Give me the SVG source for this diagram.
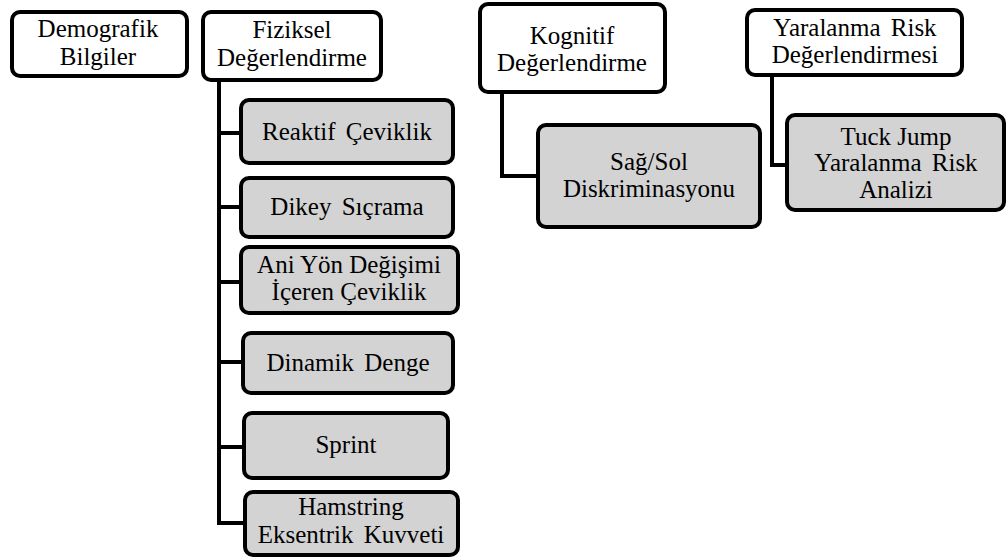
<svg xmlns="http://www.w3.org/2000/svg" width="1006" height="558" viewBox="0 0 1006 558">
<style>
text{font-family:'Liberation Serif',serif !important;font-size:25px;fill:#000;text-anchor:middle;}
.box{stroke:#000;stroke-width:4;}
.w{fill:#fff;}
.g{fill:#d3d3d3;}
.c{fill:none;stroke:#000;stroke-width:4;}
</style>
<rect width="1006" height="558" fill="#fff"/>
<g id="connectors">
<path class="c" d="M219,80 V523 H245 M219,133 H241 M219,207 H241 M219,282 H241 M219,362 H243 M219,447 H244"/>
<path class="c" d="M502,92 V176 H538"/>
<path class="c" d="M772,75 V165 H787"/>
</g>
<g id="demografik">
<rect class="box w" x="12" y="12" width="175" height="64" rx="8"/>
<text x="98" y="37" font-family="Liberation Serif">Demografik</text>
<text x="98" y="65" font-family="Liberation Serif">Bilgiler</text>
</g>
<g id="fiziksel">
<rect class="box w" x="203" y="12" width="178" height="68" rx="8"/>
<text x="292" y="38" font-family="Liberation Serif">Fiziksel</text>
<text x="292" y="66" font-family="Liberation Serif">Değerlendirme</text>
</g>
<g id="reaktif">
<rect class="box g" x="241" y="100" width="212" height="63" rx="8"/>
<text x="347" y="140" word-spacing="4" font-family="Liberation Serif">Reaktif Çeviklik</text>
</g>
<g id="dikey">
<rect class="box g" x="241" y="178" width="212" height="59" rx="8"/>
<text x="347" y="215" word-spacing="4" font-family="Liberation Serif">Dikey Sıçrama</text>
</g>
<g id="aniyon">
<rect class="box g" x="241" y="247" width="217" height="66" rx="8"/>
<text x="349" y="273" font-family="Liberation Serif">Ani Yön Değişimi</text>
<text x="349" y="300" font-family="Liberation Serif">İçeren Çeviklik</text>
</g>
<g id="dinamik">
<rect class="box g" x="243" y="333" width="210" height="60" rx="8"/>
<text x="348" y="371" word-spacing="4" font-family="Liberation Serif">Dinamik Denge</text>
</g>
<g id="sprint">
<rect class="box g" x="244" y="413" width="204" height="65" rx="8"/>
<text x="346" y="453" font-family="Liberation Serif">Sprint</text>
</g>
<g id="hamstring">
<rect class="box g" x="245" y="492" width="213" height="63" rx="8"/>
<text x="351" y="515" font-family="Liberation Serif">Hamstring</text>
<text x="351" y="543" word-spacing="4" font-family="Liberation Serif">Eksentrik Kuvveti</text>
</g>
<g id="kognitif">
<rect class="box w" x="480" y="4" width="185" height="88" rx="8"/>
<text x="572" y="44" font-family="Liberation Serif">Kognitif</text>
<text x="572" y="71" font-family="Liberation Serif">Değerlendirme</text>
</g>
<g id="sagsol">
<rect class="box g" x="538" y="125" width="222" height="102" rx="8"/>
<text x="649" y="170" font-family="Liberation Serif">Sağ/Sol</text>
<text x="649" y="197" font-family="Liberation Serif">Diskriminasyonu</text>
</g>
<g id="yaralanma">
<rect class="box w" x="747" y="10" width="215" height="65" rx="8"/>
<text x="855" y="36" word-spacing="4" font-family="Liberation Serif">Yaralanma Risk</text>
<text x="855" y="63" font-family="Liberation Serif">Değerlendirmesi</text>
</g>
<g id="tuckjump">
<rect class="box g" x="787" y="115" width="217" height="95" rx="8"/>
<text x="896" y="145" font-family="Liberation Serif">Tuck Jump</text>
<text x="896" y="171" word-spacing="4" font-family="Liberation Serif">Yaralanma Risk</text>
<text x="896" y="198" font-family="Liberation Serif">Analizi</text>
</g>
</svg>
